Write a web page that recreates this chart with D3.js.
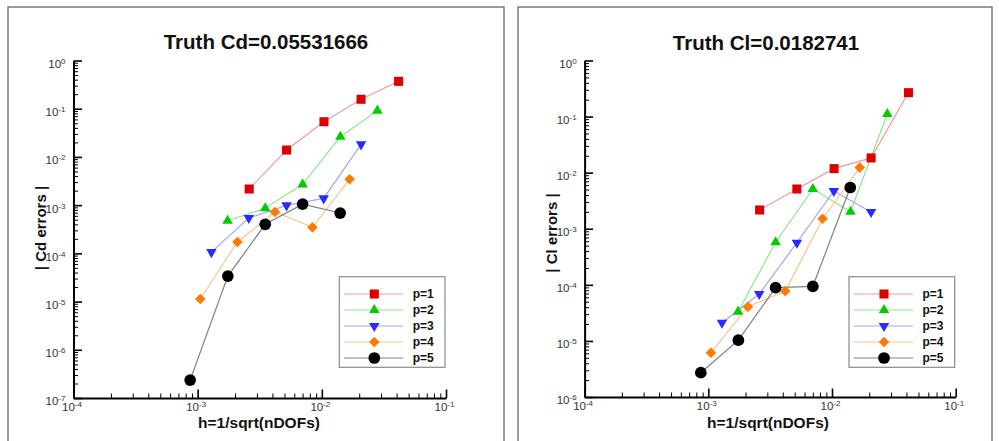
<!DOCTYPE html>
<html><head><meta charset="utf-8">
<script src="https://cdn.jsdelivr.net/npm/d3@7"></script>
<style>
html,body{margin:0;padding:0;background:#fff;}
svg{display:block;font-family:"Liberation Sans",Arial,sans-serif;}
</style></head>
<body>
<svg id="c" width="999" height="441"></svg>
<script>
// ---------- DATA ----------
const seriesNames = ["p=1","p=2","p=3","p=4","p=5"];
// h = 1/sqrt(nDOFs) for each polynomial order
const h1 = [2.6e-3, 5.2e-3, 1.04e-2, 2.07e-2, 4.15e-2];
const h2 = [1.74e-3, 3.5e-3, 7.0e-3, 1.41e-2, 2.8e-2];
const h3 = [1.29e-3, 2.58e-3, 5.2e-3, 1.035e-2, 2.07e-2];
const h4 = [1.05e-3, 2.09e-3, 4.19e-3, 8.4e-3, 1.675e-2];
const h5 = [8.7e-4, 1.75e-3, 3.5e-3, 7.0e-3, 1.405e-2];
// |Cd errors|
const cd1 = [2.16e-3, 1.39e-2, 5.37e-2, 0.157, 0.370];
const cd2 = [4.75e-4, 8.6e-4, 2.7e-3, 2.62e-2, 9.1e-2];
const cd3 = [1.06e-4, 5.4e-4, 9.9e-4, 1.38e-3, 1.82e-2];
const cd4 = [1.13e-5, 1.72e-4, 7.2e-4, 3.46e-4, 3.43e-3];
const cd5 = [2.35e-7, 3.38e-5, 4.0e-4, 1.05e-3, 6.86e-4];
// |Cl errors|
const cl1 = [2.16e-3, 5.11e-3, 1.18e-2, 1.83e-2, 0.267];
const cl2 = [3.32e-5, 5.73e-4, 5.11e-3, 2.01e-3, 0.111];
const cl3 = [2.11e-5, 6.86e-5, 5.64e-4, 4.71e-3, 1.99e-3];
const cl4 = [6.16e-6, 4.07e-5, 7.76e-5, 1.51e-3, 1.23e-2];
const cl5 = [2.71e-6, 1.03e-5, 8.89e-5, 9.41e-5, 5.44e-3];
// axis tick exponents
const xExp = [-4, -3, -2, -1];
const yExpCd = [0, -1, -2, -3, -4, -5, -6, -7];
const yExpCl = [0, -1, -2, -3, -4, -5, -6];
const titles = ["Truth Cd=0.05531666", "Truth Cl=0.0182741"];
const yTitles = ["| Cd errors |", "| Cl errors |"];
const xTitle = "h=1/sqrt(nDOFs)";

// ---------- STYLE ----------
const styles = [
  {shape:"square",  fill:"#dd0000", line:"#f29a9a"},
  {shape:"tri",     fill:"#00cc00", line:"#8fe88f"},
  {shape:"tridown", fill:"#2a2aff", line:"#a5a5ff"},
  {shape:"diamond", fill:"#ff7a00", line:"#ffc38a"},
  {shape:"circle",  fill:"#000000", line:"#808080"}
];
function symPath(shape){
  if(shape==="square") return d3.symbol(d3.symbolSquare, 82)();
  if(shape==="tri"||shape==="tridown") return d3.symbol(d3.symbolTriangle, 48)();
  if(shape==="diamond") return d3.symbol(d3.symbolSquare, 56)();
  return d3.symbol(d3.symbolCircle, 108)();
}
function symTransform(shape, x, y){
  if(shape==="tridown") return `translate(${x},${y}) rotate(180)`;
  if(shape==="diamond") return `translate(${x},${y}) rotate(45)`;
  return `translate(${x},${y})`;
}

const svg = d3.select("#c");

// panel frames
svg.append("rect").attr("x",8).attr("y",7).attr("width",496).attr("height",460)
  .attr("fill","none").attr("stroke","#7a7a7a").attr("stroke-width",1.5);
svg.append("rect").attr("x",518).attr("y",7).attr("width",474).attr("height",460)
  .attr("fill","none").attr("stroke","#7a7a7a").attr("stroke-width",1.5);

const panels = [
  {hs:[h1,h2,h3,h4,h5], es:[cd1,cd2,cd3,cd4,cd5], yExp:yExpCd,
   xr:[73.5,446], yr:[398,60.5], title:titles[0], tx:266, ty:49,
   yTitle:yTitles[0], ytx:46, yty:228, xtx:259, xty:428},
  {hs:[h1,h2,h3,h4,h5], es:[cl1,cl2,cl3,cl4,cl5], yExp:yExpCl,
   xr:[584.6,955.7], yr:[397,60.5], title:titles[1], tx:766, ty:50,
   yTitle:yTitles[1], ytx:557, yty:233, xtx:768, xty:428}
];

function minorTicks(loExp, hiExp){
  const t=[];
  for(let e=loExp;e<hiExp;e++) for(let m=2;m<=9;m++) t.push(m*Math.pow(10,e));
  return t;
}
function supLabels(sel, fs, sfs){
  sel.selectAll(".tick text").each(function(d){
    const t=d3.select(this);
    const ex=Math.round(Math.log10(d));
    t.text(null);
    t.append("tspan").text("10");
    t.append("tspan").attr("dy","-0.5em").attr("font-size",sfs).text(String(ex));
  });
}

panels.forEach(p=>{
  const yMinExp = d3.min(p.yExp), yMaxExp = d3.max(p.yExp);
  const x = d3.scaleLog().domain([Math.pow(10,d3.min(xExp)), Math.pow(10,d3.max(xExp))]).range(p.xr);
  const y = d3.scaleLog().domain([Math.pow(10,yMinExp), Math.pow(10,yMaxExp)]).range(p.yr);
  const g = svg.append("g");

  // minor ticks
  const gxm = g.append("g").attr("transform",`translate(0,${p.yr[0]})`)
    .call(d3.axisBottom(x).tickValues(minorTicks(d3.min(xExp),d3.max(xExp))).tickSize(-4.5).tickSizeOuter(0).tickFormat(""));
  gxm.select(".domain").remove();
  const gym = g.append("g").attr("transform",`translate(${p.xr[0]},0)`)
    .call(d3.axisLeft(y).tickValues(minorTicks(yMinExp,yMaxExp)).tickSize(-4.5).tickSizeOuter(0).tickFormat(""));
  gym.select(".domain").remove();
  [gxm,gym].forEach(s=>s.selectAll("line").attr("stroke","#000").attr("stroke-width",1));

  // major axes
  const gx = g.append("g").attr("transform",`translate(0,${p.yr[0]})`)
    .call(d3.axisBottom(x).tickValues(xExp.map(e=>Math.pow(10,e))).tickSize(-8.5).tickSizeOuter(0).tickPadding(5));
  const gy = g.append("g").attr("transform",`translate(${p.xr[0]},0)`)
    .call(d3.axisLeft(y).tickValues(p.yExp.map(e=>Math.pow(10,e))).tickSize(-8.5).tickSizeOuter(0).tickPadding(8));
  [gx,gy].forEach(s=>{
    s.attr("font-family",'"Liberation Sans",Arial,sans-serif').attr("font-size",11.5);
    s.select(".domain").attr("stroke","#000").attr("stroke-width",2);
    s.selectAll(".tick line").attr("stroke","#000").attr("stroke-width",1.6);
    s.selectAll(".tick text").attr("fill","#333");
    supLabels(s,11.5,8);
  });
  gx.selectAll(".tick text").attr("dx",-2);
  gy.selectAll(".tick text").attr("dy","0.6em");

  // series
  p.hs.forEach((hs,i)=>{
    const pts = hs.map((h,j)=>[h,p.es[i][j]]);
    const st = styles[i];
    g.append("path").datum(pts)
      .attr("d",d3.line().x(d=>x(d[0])).y(d=>y(d[1])))
      .attr("fill","none").attr("stroke",st.line).attr("stroke-width",1.2);
  });
  p.hs.forEach((hs,i)=>{
    const pts = hs.map((h,j)=>[h,p.es[i][j]]);
    const st = styles[i];
    g.selectAll(null).data(pts).enter().append("path")
      .attr("d",symPath(st.shape))
      .attr("transform",d=>symTransform(st.shape,x(d[0]),y(d[1])))
      .attr("fill",st.fill);
  });

  // legend
  const lx = p.xr[1]-106.7, ly = 276.7;
  const lg = g.append("g").attr("transform",`translate(${lx},${ly})`);
  lg.append("rect").attr("width",105.7).attr("height",90.6)
    .attr("fill","#fff").attr("stroke","#8a8a8a").attr("stroke-width",1.2);
  seriesNames.forEach((nm,i)=>{
    const ry = 17.3 + i*16;
    const st = styles[i];
    lg.append("line").attr("x1",4.7).attr("x2",64).attr("y1",ry).attr("y2",ry)
      .attr("stroke",st.line).attr("stroke-width",1.2);
    lg.append("path").attr("d",symPath(st.shape))
      .attr("transform",symTransform(st.shape,35,ry)).attr("fill",st.fill);
    lg.append("text").attr("x",73.4).attr("y",ry+4.3).attr("font-size",12)
      .attr("font-weight","bold").attr("fill","#111").text(nm);
  });

  // titles
  g.append("text").attr("x",p.tx).attr("y",p.ty).attr("text-anchor","middle")
    .attr("font-size",20.5).attr("font-weight","bold").attr("fill","#111").text(p.title);
  g.append("text").attr("x",p.xtx).attr("y",p.xty).attr("text-anchor","middle")
    .attr("font-size",15.5).attr("font-weight","bold").attr("fill","#111").text(xTitle);
  g.append("text").attr("transform",`translate(${p.ytx},${p.yty}) rotate(-90)`)
    .attr("text-anchor","middle").attr("font-size",15).attr("font-weight","bold")
    .attr("fill","#111").text(p.yTitle);
});
</script>
</body></html>
